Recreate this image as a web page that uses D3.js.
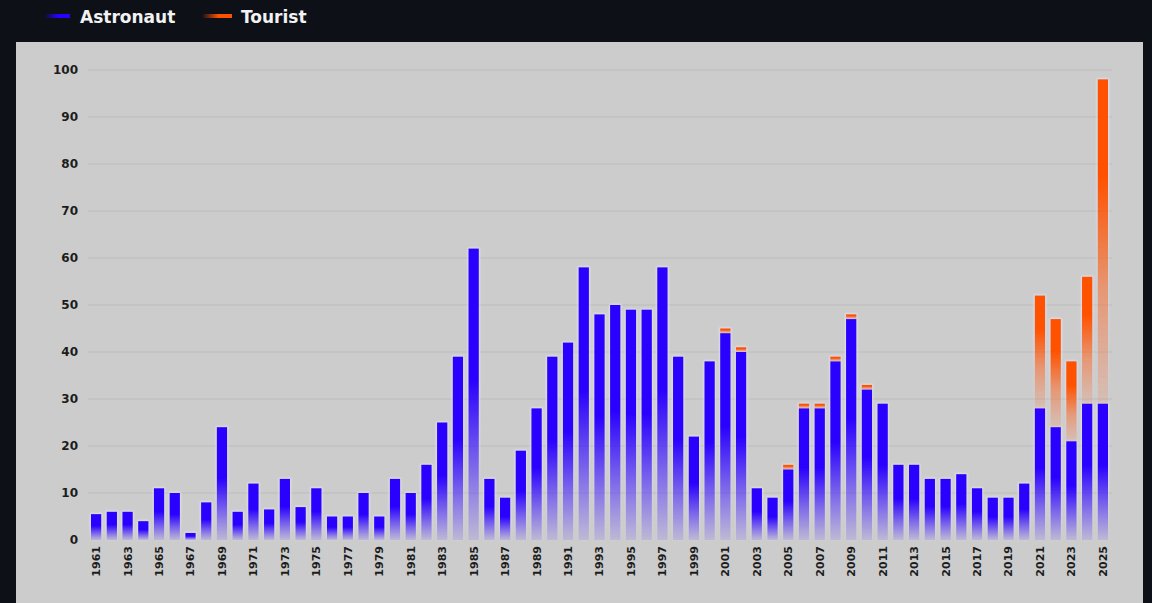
<!DOCTYPE html>
<html>
<head>
<meta charset="utf-8">
<script src="https://cdn.jsdelivr.net/npm/d3@7"></script>
<style>
  html, body { margin: 0; padding: 0; background: #0d1017; overflow: hidden; }
  svg { display: block; }
</style>
</head>
<body>
<div id="vis"></div>
<script>
// Data
const years = d3.range(1961, 2026);
const astronaut = [
  5.5, 6, 6, 4, 11, 10, 1.5, 8, 24, 6,
  12, 6.5, 13, 7, 11, 5, 5, 10, 5, 13,
  10, 16, 25, 39, 62, 13, 9, 19, 28, 39,
  42, 58, 48, 50, 49, 49, 58, 39, 22, 38,
  44, 40, 11, 9, 15, 28, 28, 38, 47, 32,
  29, 16, 16, 13, 13, 14, 11, 9, 9, 12,
  28, 24, 21, 29, 29
];
const tourist = [
  0, 0, 0, 0, 0, 0, 0, 0, 0, 0,
  0, 0, 0, 0, 0, 0, 0, 0, 0, 0,
  0, 0, 0, 0, 0, 0, 0, 0, 0, 0,
  0, 0, 0, 0, 0, 0, 0, 0, 0, 0,
  1, 1, 0, 0, 1, 1, 1, 1, 1, 1,
  0, 0, 0, 0, 0, 0, 0, 0, 0, 0,
  24, 23, 17, 27, 69
];
const yTicks = [0, 10, 20, 30, 40, 50, 60, 70, 80, 90, 100];
const seriesNames = ['Astronaut', 'Tourist'];

const blue = '#2a00ff', orange = '#ff5200';
const W = 1152, H = 603;

const data = years.map((y, i) => ({ year: y, a: astronaut[i], t: tourist[i] }));

const svg = d3.select('#vis')
  .append('svg')
  .attr('width', W)
  .attr('height', H);

const defs = svg.append('defs');

// vertical fades for the bars
function vFade(id, color, stops) {
  const g = defs.append('linearGradient').attr('id', id)
    .attr('x1', 0).attr('y1', 0).attr('x2', 0).attr('y2', 1);
  stops.forEach(s => g.append('stop')
    .attr('offset', s[0]).attr('stop-color', color).attr('stop-opacity', s[1]));
}
vFade('fadeBlue', blue, [[0, 1], [0.45, 1], [0.72, 0.55], [1, 0.1]]);
vFade('fadeOrange', orange, [[0, 1], [0.3, 1], [0.65, 0.45], [1, 0.12]]);

// horizontal fades for legend swatches
function hFade(id, color) {
  const g = defs.append('linearGradient').attr('id', id)
    .attr('x1', 0).attr('y1', 0).attr('x2', 1).attr('y2', 0);
  g.append('stop').attr('offset', 0).attr('stop-color', color).attr('stop-opacity', 0);
  g.append('stop').attr('offset', 0.55).attr('stop-color', color).attr('stop-opacity', 1);
  g.append('stop').attr('offset', 1).attr('stop-color', color).attr('stop-opacity', 1);
}
hFade('legBlue', blue);
hFade('legOrange', orange);

// soft light halo round the bars, kept outside the bar itself
const glow = defs.append('filter').attr('id', 'glow')
  .attr('color-interpolation-filters', 'sRGB')
  .attr('x', '-60%').attr('y', '-5%').attr('width', '220%').attr('height', '110%');
glow.append('feMorphology').attr('in', 'SourceAlpha').attr('operator', 'dilate').attr('radius', 1.2).attr('result', 'd');
glow.append('feGaussianBlur').attr('in', 'd').attr('stdDeviation', 1).attr('result', 'b');
glow.append('feFlood').attr('flood-color', '#ebe8ff').attr('flood-opacity', 0.7);
glow.append('feComposite').attr('in2', 'b').attr('operator', 'in').attr('result', 'g0');
glow.append('feComposite').attr('in', 'g0').attr('in2', 'SourceAlpha').attr('operator', 'out').attr('result', 'g');
const merge = glow.append('feMerge');
merge.append('feMergeNode').attr('in', 'g');
merge.append('feMergeNode').attr('in', 'SourceGraphic');

// Panel
svg.append('rect')
  .attr('x', 16).attr('y', 42)
  .attr('width', 1127).attr('height', H - 42)
  .attr('fill', '#cccccc');

// Scales
const x = d3.scaleBand()
  .domain(years)
  .range([85.5, 1113.5])
  .padding(0.35);

const y = d3.scaleLinear()
  .domain([0, 100])
  .range([540, 70]);

// Grid
svg.append('g')
  .selectAll('line')
  .data(yTicks.filter(d => d > 0))
  .join('line')
  .attr('x1', 88).attr('x2', 1112)
  .attr('y1', d => y(d)).attr('y2', d => y(d))
  .attr('stroke', '#bcbcbc')
  .attr('stroke-width', 1);

// Y axis labels
const yAxis = svg.append('g')
  .attr('transform', 'translate(78,0)')
  .call(d3.axisLeft(y).tickValues(yTicks).tickSize(0).tickPadding(0));
yAxis.select('.domain').remove();
yAxis.selectAll('text')
  .attr('fill', '#1c1c1c')
  .style('font-family', 'DejaVu Sans, sans-serif')
  .style('font-weight', 'bold')
  .style('font-size', '12px');

// X axis labels (every other year)
const xAxis = svg.append('g')
  .attr('transform', 'translate(0,546)')
  .call(d3.axisBottom(x).tickValues(years.filter(d => d % 2 === 1)).tickSize(0).tickPadding(0));
xAxis.select('.domain').remove();
xAxis.selectAll('text')
  .attr('fill', '#1c1c1c')
  .attr('transform', 'rotate(-90)')
  .attr('text-anchor', 'end')
  .attr('x', 0)
  .attr('y', 0)
  .attr('dy', '0.36em')
  .style('font-family', 'DejaVu Sans, sans-serif')
  .style('font-weight', 'bold')
  .style('font-size', '11px');

// Bars
const bars = svg.append('g').attr('filter', 'url(#glow)');

bars.selectAll('.astro')
  .data(data)
  .join('rect')
  .attr('class', 'astro')
  .attr('x', d => x(d.year))
  .attr('width', x.bandwidth())
  .attr('y', d => y(d.a))
  .attr('height', d => y(0) - y(d.a))
  .attr('fill', 'url(#fadeBlue)');

bars.selectAll('.tour')
  .data(data.filter(d => d.t > 0))
  .join('rect')
  .attr('class', 'tour')
  .attr('x', d => x(d.year))
  .attr('width', x.bandwidth())
  .attr('y', d => y(d.a + d.t))
  .attr('height', d => y(d.a) - y(d.a + d.t))
  .attr('fill', 'url(#fadeOrange)');

// Legend
const legend = svg.append('g');
const legX = [44, 202];
const legW = [26, 30];
const legFill = ['url(#legBlue)', 'url(#legOrange)'];
legend.selectAll('rect')
  .data(seriesNames)
  .join('rect')
  .attr('x', (d, i) => legX[i])
  .attr('y', 14)
  .attr('width', (d, i) => legW[i])
  .attr('height', 4)
  .attr('fill', (d, i) => legFill[i]);
legend.selectAll('text')
  .data(seriesNames)
  .join('text')
  .attr('x', (d, i) => [80, 241][i])
  .attr('y', 23)
  .attr('fill', '#f2f2f2')
  .style('font-family', 'DejaVu Sans, sans-serif')
  .style('font-weight', 'bold')
  .style('font-size', '17px')
  .text(d => d);
</script>
</body>
</html>
